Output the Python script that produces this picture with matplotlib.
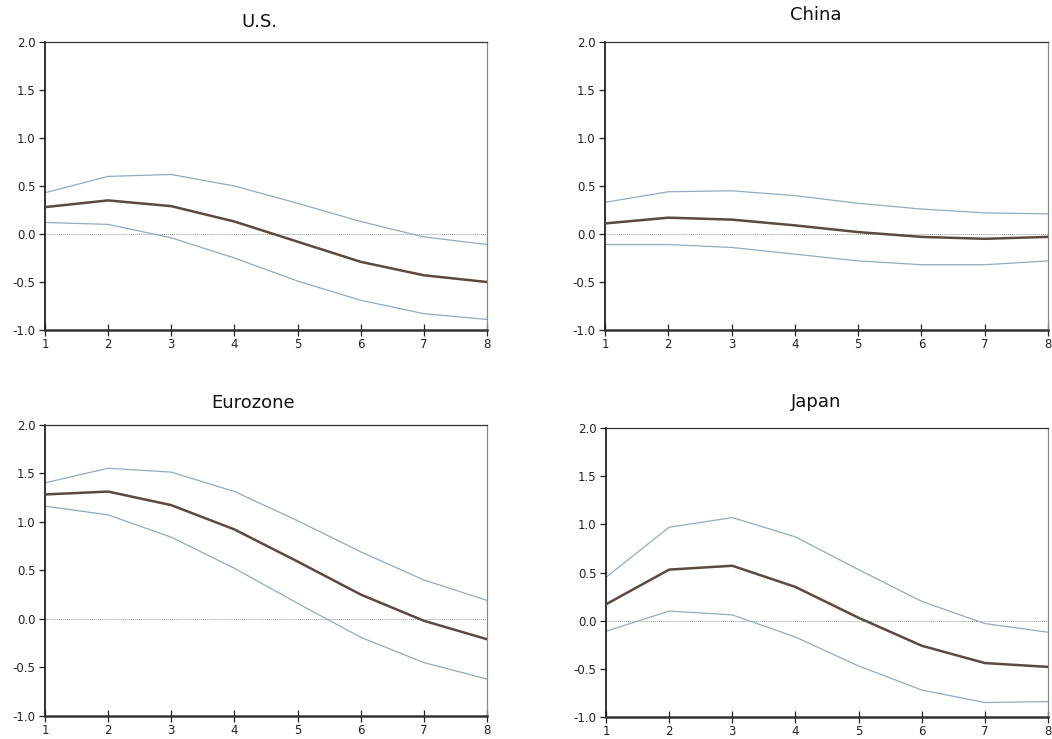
import matplotlib
matplotlib.use("Agg")
import matplotlib.pyplot as plt

plt.rcParams["axes.unicode_minus"] = False
plt.rcParams["font.family"] = ["DejaVu Sans"]

x = [1, 2, 3, 4, 5, 6, 7, 8]
titles = ["U.S.", "China", "Eurozone", "Japan"]

us_mean = [0.28, 0.35, 0.29, 0.13, -0.08, -0.29, -0.43, -0.50]
us_upper = [0.43, 0.60, 0.62, 0.50, 0.32, 0.13, -0.03, -0.11]
us_lower = [0.12, 0.10, -0.04, -0.25, -0.49, -0.69, -0.83, -0.89]

cn_mean = [0.11, 0.17, 0.15, 0.09, 0.02, -0.03, -0.05, -0.03]
cn_upper = [0.33, 0.44, 0.45, 0.40, 0.32, 0.26, 0.22, 0.21]
cn_lower = [-0.11, -0.11, -0.14, -0.21, -0.28, -0.32, -0.32, -0.28]

ez_mean = [1.28, 1.31, 1.17, 0.92, 0.59, 0.25, -0.02, -0.21]
ez_upper = [1.40, 1.55, 1.51, 1.31, 1.01, 0.69, 0.40, 0.19]
ez_lower = [1.16, 1.07, 0.84, 0.52, 0.16, -0.19, -0.45, -0.62]

jp_mean = [0.17, 0.53, 0.57, 0.35, 0.03, -0.26, -0.44, -0.48]
jp_upper = [0.45, 0.97, 1.07, 0.87, 0.53, 0.20, -0.03, -0.12]
jp_lower = [-0.11, 0.10, 0.06, -0.17, -0.47, -0.72, -0.85, -0.84]

series = [(us_mean, us_upper, us_lower), (cn_mean, cn_upper, cn_lower),
          (ez_mean, ez_upper, ez_lower), (jp_mean, jp_upper, jp_lower)]

yticks = [-1.0, -0.5, 0.0, 0.5, 1.0, 1.5, 2.0]

W, H = 1052, 739
fig = plt.figure(figsize=(W / 100, H / 100), dpi=100)

# axes boxes in pixels: left, top, right, bottom
boxes = [
    (45, 42, 487, 330),
    (605, 42, 1048, 330),
    (45, 424.5, 487, 716),
    (606, 428, 1048, 717),
]
# title centre x and baseline y in pixels
title_pos = [(259, 27), (816, 20), (253, 408), (816.5, 407)]

mean_c = "#5a4a42"
band_c = "#92abbf"

for (l0, t0, r0, b0), t, (m, u, lo), (tx, ty) in zip(boxes, titles, series, title_pos):
    ax = fig.add_axes([l0 / W, 1 - b0 / H, (r0 - l0) / W, (b0 - t0) / H])
    ax.axhline(0, color="#9a9a9a", lw=0.7, ls=(0, (1, 1)), zorder=1)
    ax.plot(x, u, color=band_c, lw=0.9, zorder=2)
    ax.plot(x, lo, color=band_c, lw=0.9, zorder=2)
    ax.plot(x, m, color=mean_c, lw=1.8, zorder=3)
    ax.set_xlim(1, 8)
    ax.set_ylim(-1.0, 2.0)
    ax.set_xticks(x)
    ax.set_yticks(yticks)
    ax.set_yticklabels([f"{v:.1f}" for v in yticks])
    ax.tick_params(axis="y", labelsize=8.5, length=4, width=0.9, direction="out",
                   pad=3, colors="#222222")
    ax.tick_params(axis="x", labelsize=8.5, length=8, width=0.9, direction="inout",
                   pad=2, colors="#222222")
    ax.spines["left"].set_linewidth(1.2)
    ax.spines["left"].set_color("#111111")
    ax.spines["bottom"].set_linewidth(1.8)
    ax.spines["bottom"].set_color("#333333")
    ax.spines["top"].set_linewidth(0.9)
    ax.spines["top"].set_color("#333333")
    ax.spines["right"].set_linewidth(0.9)
    ax.spines["right"].set_color("#888888")
    fig.text(tx / W, 1 - ty / H, t, ha="center", va="baseline", fontsize=13,
             color="#111111")

fig.savefig("out.png", dpi=100)
